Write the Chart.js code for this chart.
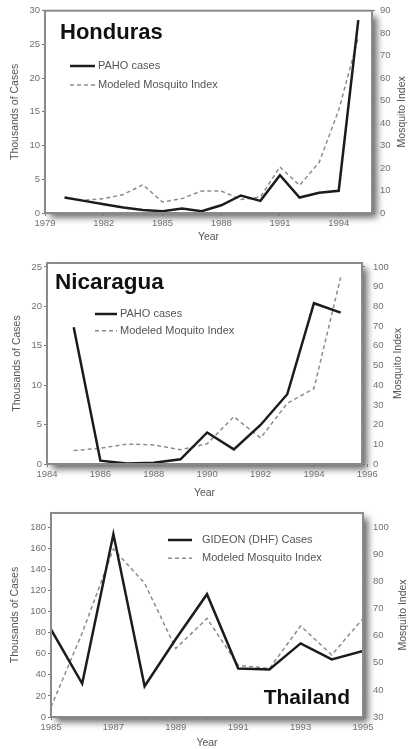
<!DOCTYPE html>
<html>
<head>
<meta charset="utf-8">
<script src="https://cdn.jsdelivr.net/npm/chart.js@4.4.1/dist/chart.umd.min.js"></script>
<style>
    html, body { margin: 0; padding: 0; background: #fff; }
    #wrap { position: relative; width: 409px; height: 749px; overflow: hidden; }
    canvas { position: absolute; left: 0; }
</style>
</head>
<body>
<div id="wrap">
    <canvas id="chartHonduras" width="409" height="245" style="top:0px"></canvas>
    <canvas id="chartNicaragua" width="409" height="255" style="top:245px"></canvas>
    <canvas id="chartThailand" width="409" height="249" style="top:500px"></canvas>
</div>
<script>
// Honduras
const hondurasYears = [1980, 1981, 1982, 1983, 1984, 1985, 1986, 1987, 1988, 1989, 1990, 1991, 1992, 1993, 1994, 1995];
const hondurasCases = [2.3, 1.8, 1.3, 0.8, 0.45, 0.25, 0.65, 0.25, 1.15, 2.6, 1.8, 5.6, 2.3, 3.0, 3.3, 28.6];
const hondurasMosquito = [6.9, 5.7, 6.4, 8.2, 12.6, 4.9, 6.4, 9.8, 9.8, 6.0, 7.1, 20.5, 12.3, 22.5, 45.8, 78];
const hondurasXTicks = [1979, 1982, 1985, 1988, 1991, 1994];
const hondurasCaseTicks = [0, 5, 10, 15, 20, 25, 30];
const hondurasIndexTicks = [0, 10, 20, 30, 40, 50, 60, 70, 80, 90];

// Nicaragua
const nicaraguaYears = [1985, 1986, 1987, 1988, 1989, 1990, 1991, 1992, 1993, 1994, 1995];
const nicaraguaCases = [17.35, 0.42, 0.05, 0.15, 0.6, 4.0, 1.86, 4.95, 8.85, 20.4, 19.2];
const nicaraguaMosquito = [6.8, 8.0, 10.1, 9.7, 7.2, 10.3, 24.0, 13.2, 30.8, 38.3, 94.7];
const nicaraguaXTicks = [1984, 1986, 1988, 1990, 1992, 1994, 1996];
const nicaraguaCaseTicks = [0, 5, 10, 15, 20, 25];
const nicaraguaIndexTicks = [0, 10, 20, 30, 40, 50, 60, 70, 80, 90, 100];

// Thailand
const thailandYears = [1985, 1986, 1987, 1988, 1989, 1990, 1991, 1992, 1993, 1994, 1995];
const thailandCases = [83.2, 31.8, 173.7, 29.2, 74, 116.6, 46.1, 45.1, 69.9, 54.7, 62.6];
const thailandMosquito = [33.7, 61, 92, 79.4, 55.3, 66.4, 49.1, 47.9, 63.6, 52.9, 66.4];
const thailandXTicks = [1985, 1986, 1987, 1988, 1989, 1990, 1991, 1992, 1993, 1994, 1995];
const thailandXLabels = [1985, 1987, 1989, 1991, 1993, 1995];
const thailandCaseTicks = [0, 20, 40, 60, 80, 100, 120, 140, 160, 180];
const thailandIndexTicks = [30, 40, 50, 60, 70, 80, 90, 100];

const FONT = 'Liberation Sans, Arial, Helvetica, sans-serif';

const panelPlugin = {
    id: 'panelDecor',
    beforeDraw(chart) {
        const { ctx, chartArea: a } = chart;
        ctx.save();
        ctx.shadowColor = 'rgba(0,0,0,0.6)';
        ctx.shadowBlur = 7;
        ctx.shadowOffsetX = 5;
        ctx.shadowOffsetY = 5;
        ctx.fillStyle = '#fff';
        ctx.fillRect(a.left, a.top, a.right - a.left, a.bottom - a.top);
        ctx.restore();
    },
    afterDatasetsDraw(chart, args, opts) {
        const { ctx, chartArea: a } = chart;
        ctx.save();
        ctx.strokeStyle = '#8a8a8a';
        ctx.lineWidth = 2;
        ctx.strokeRect(a.left, a.top, a.right - a.left, a.bottom - a.top);

        // country name
        ctx.fillStyle = '#111';
        ctx.font = 'bold ' + opts.titleSize + 'px ' + FONT;
        ctx.textAlign = opts.titleAlign;
        ctx.textBaseline = 'middle';
        ctx.fillText(opts.title, opts.titleX, opts.titleY);

        // legend
        ctx.font = '11px ' + FONT;
        ctx.textAlign = 'left';
        chart.data.datasets.forEach((ds, i) => {
            const y = opts.legendY + i * opts.legendGap;
            ctx.beginPath();
            ctx.strokeStyle = ds.borderColor;
            ctx.lineWidth = ds.borderWidth;
            ctx.setLineDash(ds.borderDash || []);
            ctx.moveTo(opts.legendX, y);
            ctx.lineTo(opts.legendX + opts.sampleLen, y);
            ctx.stroke();
            ctx.setLineDash([]);
            ctx.fillStyle = '#555';
            ctx.fillText(ds.label, opts.legendX + opts.sampleLen + opts.textGap, y);
        });

        // right axis title, reading bottom to top
        ctx.font = '10.5px ' + FONT;
        ctx.translate(opts.rightTitleX, (a.top + a.bottom) / 2);
        ctx.rotate(-Math.PI / 2);
        ctx.textAlign = 'center';
        ctx.fillStyle = '#555';
        ctx.fillText('Mosquito Index', 0, 0);
        ctx.restore();
    }
};

function makePanel(id, p) {
    const tickFont = { family: FONT, size: 9.5 };
    const titleFont = { family: FONT, size: 10.5 };
    return new Chart(document.getElementById(id), {
        type: 'line',
        data: {
            datasets: [{
                label: p.caseLabel,
                data: p.years.map((yr, i) => ({ x: yr, y: p.cases[i] })),
                yAxisID: 'y',
                borderColor: '#1c1c1c',
                borderWidth: 2.5,
                pointRadius: 0,
                tension: 0
            }, {
                label: p.indexLabel,
                data: p.years.map((yr, i) => ({ x: yr, y: p.mosquito[i] })),
                yAxisID: 'y1',
                borderColor: '#8c8c8c',
                borderWidth: 1.5,
                borderDash: [4, 3],
                pointRadius: 0,
                tension: 0
            }]
        },
        options: {
            responsive: false,
            devicePixelRatio: 1,
            animation: false,
            layout: { padding: { top: p.padTop, left: 0, right: 0, bottom: 0 } },
            plugins: {
                legend: { display: false },
                tooltip: { enabled: false },
                panelDecor: p.decor
            },
            scales: {
                x: {
                    type: 'linear',
                    min: p.xMin,
                    max: p.xMax,
                    afterBuildTicks: s => { s.ticks = p.xTicks.map(v => ({ value: v })); },
                    afterFit: s => { s.height = p.xHeight; },
                    border: { display: false },
                    grid: { drawOnChartArea: false, tickLength: 3, color: '#777' },
                    ticks: {
                        font: tickFont, color: '#707070', padding: 2, maxRotation: 0, autoSkip: false,
                        callback: v => (p.xLabels.includes(v) ? String(v) : '')
                    },
                    title: { display: true, text: 'Year', font: titleFont, color: '#555', padding: { top: 0, bottom: p.yearPad } }
                },
                y: {
                    position: 'left',
                    min: p.caseMin,
                    max: p.caseMax,
                    afterBuildTicks: s => { s.ticks = p.caseTicks.map(v => ({ value: v })); },
                    afterFit: s => { s.width = p.leftWidth; },
                    border: { display: false },
                    grid: { drawOnChartArea: false, tickLength: 3, color: '#777' },
                    ticks: { font: tickFont, color: '#707070', padding: 2 },
                    title: { display: true, text: 'Thousands of Cases', font: titleFont, color: '#555', padding: { top: p.leftTitlePad, bottom: 0 } }
                },
                y1: {
                    position: 'right',
                    min: p.indexMin,
                    max: p.indexMax,
                    afterBuildTicks: s => { s.ticks = p.indexTicks.map(v => ({ value: v })); },
                    afterFit: s => { s.width = p.rightWidth; },
                    border: { display: false },
                    grid: { drawOnChartArea: false, tickLength: 3, color: '#777' },
                    ticks: { font: tickFont, color: '#707070', padding: p.rightTickPad }
                }
            }
        },
        plugins: [panelPlugin]
    });
}

makePanel('chartHonduras', {
    years: hondurasYears, cases: hondurasCases, mosquito: hondurasMosquito,
    caseLabel: 'PAHO cases', indexLabel: 'Modeled Mosquito Index',
    xTicks: hondurasXTicks, xLabels: hondurasXTicks, xMin: 1979, xMax: 1995.7,
    caseTicks: hondurasCaseTicks, caseMin: 0, caseMax: 30,
    indexTicks: hondurasIndexTicks, indexMin: 0, indexMax: 90,
    padTop: 10, xHeight: 32, leftWidth: 45, rightWidth: 37, yearPad: 2, leftTitlePad: 9, rightTickPad: 5,
    decor: { title: 'Honduras', titleSize: 22, titleX: 60, titleY: 33, titleAlign: 'left',
             legendX: 70, legendY: 66, legendGap: 19, sampleLen: 25, textGap: 3, rightTitleX: 402 }
});

makePanel('chartNicaragua', {
    years: nicaraguaYears, cases: nicaraguaCases, mosquito: nicaraguaMosquito,
    caseLabel: 'PAHO cases', indexLabel: 'Modeled Moquito Index',
    xTicks: nicaraguaXTicks, xLabels: nicaraguaXTicks, xMin: 1984, xMax: 1995.8,
    caseTicks: nicaraguaCaseTicks, caseMin: 0, caseMax: 25.5,
    indexTicks: nicaraguaIndexTicks, indexMin: 0, indexMax: 102,
    padTop: 18, xHeight: 36, leftWidth: 47, rightWidth: 47, yearPad: 1, leftTitlePad: 11, rightTickPad: 8,
    decor: { title: 'Nicaragua', titleSize: 22.5, titleX: 55, titleY: 38, titleAlign: 'left',
             legendX: 95, legendY: 69, legendGap: 16.7, sampleLen: 22, textGap: 3, rightTitleX: 398 }
});

makePanel('chartThailand', {
    years: thailandYears, cases: thailandCases, mosquito: thailandMosquito,
    caseLabel: 'GIDEON (DHF) Cases', indexLabel: 'Modeled Mosquito Index',
    xTicks: thailandXTicks, xLabels: thailandXLabels, xMin: 1985, xMax: 1995,
    caseTicks: thailandCaseTicks, caseMin: 0, caseMax: 193.7,
    indexTicks: thailandIndexTicks, indexMin: 30, indexMax: 105.3,
    padTop: 13, xHeight: 32, leftWidth: 51, rightWidth: 46, yearPad: 0, leftTitlePad: 9, rightTickPad: 7,
    decor: { title: 'Thailand', titleSize: 21, titleX: 350, titleY: 198, titleAlign: 'right',
             legendX: 168, legendY: 40, legendGap: 18.3, sampleLen: 24, textGap: 10, rightTitleX: 403 }
});
</script>
</body>
</html>
